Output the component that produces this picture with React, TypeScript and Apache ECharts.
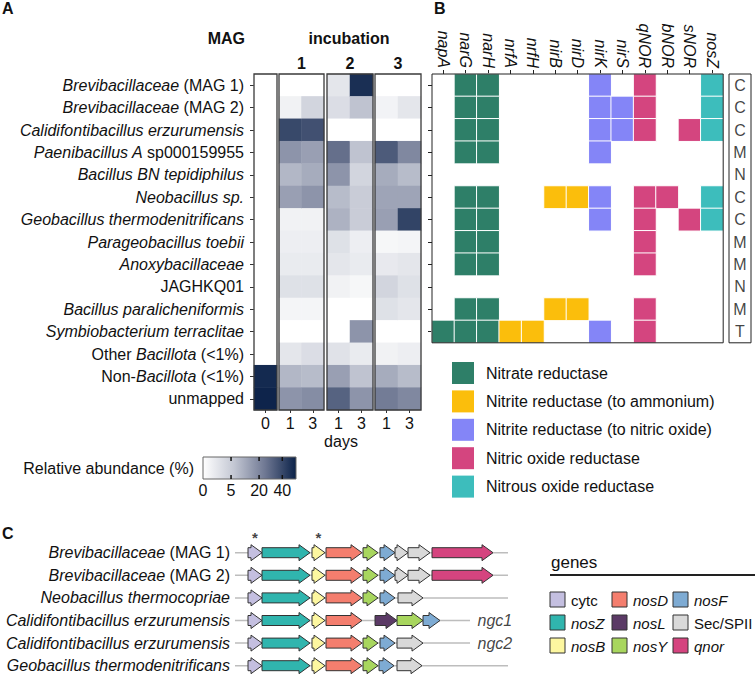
import React, { useEffect, useRef } from "react";
import * as echarts from "echarts";

const FONT = '"Liberation Sans", Arial, Helvetica, sans-serif';

// ---------- Panel A: relative abundance heatmap ----------
const taxa = [
  "{i|Brevibacillaceae} (MAG 1)",
  "{i|Brevibacillaceae} (MAG 2)",
  "{i|Calidifontibacillus erzurumensis}",
  "{i|Paenibacillus A} sp000159955",
  "{i|Bacillus BN tepidiphilus}",
  "{i|Neobacillus sp.}",
  "{i|Geobacillus thermodenitrificans}",
  "{i|Parageobacillus toebii}",
  "{i|Anoxybacillaceae}",
  "JAGHKQ01",
  "{i|Bacillus paralicheniformis}",
  "{i|Symbiobacterium terraclitae}",
  "Other {i|Bacillota} (<1%)",
  "Non-{i|Bacillota} (<1%)",
  "unmapped",
];
// relative abundance (%) per sample column
const magDay0 = [0, 0, 0, 0, 0, 0, 0, 0, 0, 0, 0, 0, 0, 51.7, 54];
const inc1Day1 = [0, 0.35, 39.7, 16.6, 8.8, 13.8, 0.35, 0.55, 0.8, 1.8, 0.2, 0, 1.24, 8.8, 16.6];
const inc1Day3 = [0, 3.4, 37, 13.8, 11.1, 16.6, 0.35, 0.55, 0.8, 1.8, 0.2, 0, 2.2, 7.9, 18.5];
const inc2Day1 = [1.24, 2.2, 0, 27, 16.6, 7.9, 9.7, 1.8, 1.24, 0.35, 0, 0, 1.6, 13.8, 30.9];
const inc2Day3 = [49.6, 6.7, 0, 6.7, 3.4, 5.0, 5.0, 0.55, 0.8, 0.14, 0, 16.6, 0.8, 6.7, 16.6];
const inc3Day1 = [0, 0.27, 0, 33.5, 11.1, 12.7, 13.8, 0.14, 0.93, 3.4, 1.8, 0, 0.35, 11.1, 23.2];
const inc3Day3 = [0, 1.24, 0, 19.8, 7.9, 12.7, 41.5, 0.2, 1.24, 1.8, 1.24, 0, 0.55, 7.9, 19.8];
const colorbarTicks = [0, 5, 20, 40];
const ABUND_MAX = 55;
const heatColors = ["#ffffff", "#c3c7d3", "#6f7893", "#0b2249"];

// ---------- Panel B: gene presence ----------
const genes = ["napA", "narG", "narH", "nrfA", "nrfH", "nirB", "nirD", "nirK", "nirS", "qNOR", "bNOR", "sNOR", "nosZ"];
const geneGroup = [0, 0, 0, 1, 1, 1, 1, 2, 2, 3, 3, 3, 4];
const groupNames = [
  "Nitrate reductase",
  "Nitrite reductase (to ammonium)",
  "Nitrite reductase (to nitric oxide)",
  "Nitric oxide reductase",
  "Nitrous oxide reductase",
];
const groupColors = ["#2e7f68", "#fbbe0c", "#8485f7", "#d4457f", "#3dbdbc"];
const genePresence = [
  [0, 1, 1, 0, 0, 0, 0, 1, 0, 1, 0, 0, 1],
  [0, 1, 1, 0, 0, 0, 0, 1, 1, 1, 0, 0, 1],
  [0, 1, 1, 0, 0, 0, 0, 1, 1, 1, 0, 1, 1],
  [0, 1, 1, 0, 0, 0, 0, 1, 0, 0, 0, 0, 0],
  [0, 0, 0, 0, 0, 0, 0, 0, 0, 0, 0, 0, 0],
  [0, 1, 1, 0, 0, 1, 1, 1, 0, 1, 1, 0, 1],
  [0, 1, 1, 0, 0, 0, 0, 1, 0, 1, 0, 1, 1],
  [0, 1, 1, 0, 0, 0, 0, 0, 0, 1, 0, 0, 0],
  [0, 1, 1, 0, 0, 0, 0, 0, 0, 1, 0, 0, 0],
  [0, 0, 0, 0, 0, 0, 0, 0, 0, 0, 0, 0, 0],
  [0, 1, 1, 0, 0, 1, 1, 0, 0, 1, 0, 0, 0],
  [1, 1, 1, 1, 1, 0, 0, 1, 0, 1, 0, 0, 0],
];
const lifestyle = ["C", "C", "C", "M", "N", "C", "C", "M", "M", "N", "M", "T"];

// ---------- Panel C: nos gene clusters (positions in kb) ----------
const operonNames = [
  "{i|Brevibacillaceae} (MAG 1)",
  "{i|Brevibacillaceae} (MAG 2)",
  "{i|Neobacillus thermocopriae}",
  "{i|Calidifontibacillus erzurumensis}",
  "{i|Calidifontibacillus erzurumensis}",
  "{i|Geobacillus thermodenitrificans}",
];
const geneNames = ["cytc", "nosZ", "nosB", "nosD", "nosL", "nosY", "nosF", "Sec/SPII", "qnor"];
const geneItalic = [false, true, true, true, true, true, true, false, true];
const geneColors = ["#c4bfe0", "#30b5ae", "#fdf7a0", "#f47e6e", "#5b3a66", "#a8d65e", "#7eabd3", "#d9d9d9", "#d5447f"];
const legendOrder = [0, 3, 6, 1, 4, 7, 2, 5, 8];
const operonMAG1 = [[0.65, 1.35, 0], [1.35, 3.75, 1], [3.85, 4.5, 2], [4.55, 6.35, 3], [6.4, 7.15, 5], [7.25, 8.0, 6], [8.0, 8.65, 7], [8.65, 9.75, 7], [9.85, 12.9, 8]];
const operonMAG2 = [[0.65, 1.35, 0], [1.35, 3.75, 1], [3.85, 4.5, 2], [4.55, 6.35, 3], [6.4, 7.15, 5], [7.25, 8.0, 6], [8.0, 8.65, 7], [8.65, 9.75, 7], [9.85, 12.9, 8]];
const operonNeo = [[0.65, 1.35, 0], [1.35, 3.75, 1], [3.85, 4.5, 2], [4.55, 6.35, 3], [6.4, 7.15, 5], [7.25, 8.0, 6], [8.15, 9.4, 7]];
const operonCal1 = [[0.65, 1.35, 0], [1.35, 3.75, 1], [3.85, 4.5, 2], [4.55, 6.35, 3], [7.0, 8.1, 4], [8.1, 9.4, 5], [9.4, 10.25, 6]];
const operonCal2 = [[0.65, 1.35, 0], [1.35, 3.75, 1], [3.85, 4.5, 2], [4.55, 6.35, 3], [6.4, 7.15, 5], [7.25, 8.0, 6], [8.1, 9.4, 7]];
const operonGeo = [[0.65, 1.35, 0], [1.35, 3.75, 1], [3.85, 4.5, 2], [4.55, 6.35, 3], [6.4, 7.15, 5], [7.2, 7.95, 6], [8.1, 9.35, 7]];
const operons = [operonMAG1, operonMAG2, operonNeo, operonCal1, operonCal2, operonGeo];
const trackEnds = [13.65, 13.65, 13.65, 11.75, 11.75, 13.65];
const clusterTags = ["", "", "", "ngc1", "ngc2", ""];
const starredGenes = [[0, 0], [0, 2]]; // [row, gene index within row]

function buildOption() {
  const aGroups = [
    { cols: [magDay0], labels: ["0"], left: 254, width: 23 },
    { cols: [inc1Day1, inc1Day3], labels: ["1", "3"], left: 279, width: 45 },
    { cols: [inc2Day1, inc2Day3], labels: ["1", "3"], left: 327, width: 46 },
    { cols: [inc3Day1, inc3Day3], labels: ["1", "3"], left: 375, width: 46 },
  ];
  const TOP = 74;
  const ROWH = 22.4;
  const grids: any[] = [];
  const xAxes: any[] = [];
  const yAxes: any[] = [];
  const series: any[] = [];
  const rich = { i: { fontStyle: "italic", fontSize: 16, fontFamily: FONT, color: "#111" } };

  aGroups.forEach((g, gi) => {
    grids.push({ left: g.left, top: TOP, width: g.width, height: ROWH * taxa.length, show: true, borderColor: "#3a3a3a", borderWidth: 1.3, z: 10 });
    xAxes.push({
      type: "category", gridIndex: gi, data: g.labels, position: "bottom",
      axisLine: { show: false },
      axisTick: { show: true, alignWithLabel: true, length: 3, lineStyle: { color: "#333" } },
      axisLabel: { fontSize: 16, color: "#111", margin: 5, fontFamily: FONT, interval: 0 },
      splitLine: { show: false },
    });
    if (gi === 0) {
      yAxes.push({
        type: "category", gridIndex: gi, data: taxa, inverse: true,
        axisLine: { show: false },
        axisTick: { show: true, alignWithLabel: true, length: 4, lineStyle: { color: "#333" } },
        axisLabel: { fontSize: 16, color: "#111", margin: 10, fontFamily: FONT, interval: 0, rich },
      });
    } else {
      yAxes.push({ type: "category", gridIndex: gi, data: taxa, inverse: true, show: false });
    }
    const data: any[] = [];
    g.cols.forEach((col, ci) => col.forEach((v, ri) => data.push([ci, ri, Math.sqrt(v)])));
    series.push({ type: "heatmap", xAxisIndex: gi, yAxisIndex: gi, data, itemStyle: { borderWidth: 0 }, emphasis: { disabled: true } });
  });

  // Panel B grid (index 4)
  const nB = genePresence.length;
  grids.push({ left: 432, top: TOP, width: 22.4 * genes.length, height: ROWH * nB, show: true, borderColor: "#222", borderWidth: 1, z: 10 });
  xAxes.push({
    type: "category", gridIndex: 4, data: genes, position: "top",
    axisLine: { show: false },
    axisTick: { show: true, alignWithLabel: true, length: 4, lineStyle: { color: "#222" } },
    axisLabel: { rotate: 90, fontSize: 16, fontStyle: "italic", color: "#111", margin: 6, fontFamily: FONT, interval: 0 },
  });
  yAxes.push({
    type: "category", gridIndex: 4, data: taxa.slice(0, nB), inverse: true,
    axisLine: { show: false },
    axisTick: { show: true, alignWithLabel: true, length: 4, lineStyle: { color: "#222" } },
    axisLabel: { show: false },
  });
  const bData: any[] = [];
  genePresence.forEach((row, ri) => row.forEach((p, ci) => { if (p) bData.push([ci, ri, geneGroup[ci] + 1]); }));
  series.push({ type: "heatmap", xAxisIndex: 4, yAxisIndex: 4, data: bData, itemStyle: { borderColor: "#ffffff", borderWidth: 1 }, emphasis: { disabled: true } });

  // Letters (index 5)
  grids.push({ left: 729, top: TOP, width: 22, height: ROWH * nB, show: true, borderColor: "#222", borderWidth: 1, z: 10 });
  xAxes.push({ type: "value", gridIndex: 5, min: -1, max: 1, show: false });
  yAxes.push({ type: "category", gridIndex: 5, data: lifestyle.map((_, i) => String(i)), inverse: true, show: false });
  series.push({
    type: "scatter", xAxisIndex: 5, yAxisIndex: 5, data: lifestyle.map((_, i) => [0, i]),
    symbolSize: 1, itemStyle: { color: "rgba(0,0,0,0)" }, silent: true,
    label: { show: true, position: "inside", formatter: (p: any) => lifestyle[p.dataIndex], fontSize: 16, color: "#111", fontFamily: FONT },
  });

  // Panel C (index 6)
  const CROW = 23.6;
  grids.push({ left: 235, top: 541.4, width: 273, height: CROW * operons.length });
  xAxes.push({ type: "value", gridIndex: 6, min: 0, max: 13.65, show: false });
  yAxes.push({
    type: "category", gridIndex: 6, data: operons.map((_, i) => String(i)), inverse: true,
    axisLine: { show: false }, axisTick: { show: false },
    axisLabel: { formatter: (_v: string, i: number) => operonNames[i], fontSize: 16, color: "#111", margin: 5, fontFamily: FONT, rich },
  });
  series.push({
    type: "custom", xAxisIndex: 6, yAxisIndex: 6, silent: true,
    data: trackEnds.map((e, i) => [0, e, i]),
    encode: { x: [0, 1], y: 2 },
    renderItem: (_p: any, api: any) => {
      const a = api.coord([api.value(0), api.value(2)]);
      const b = api.coord([api.value(1), api.value(2)]);
      return { type: "line", shape: { x1: a[0], y1: a[1], x2: b[0], y2: b[1] }, style: { stroke: "#bdbdbd", lineWidth: 1.5 } };
    },
  });
  const arrowData: any[] = [];
  operons.forEach((op, ri) => op.forEach(([s, e, g]) => arrowData.push([s, e, ri, g])));
  series.push({
    type: "custom", xAxisIndex: 6, yAxisIndex: 6, silent: true,
    data: arrowData,
    encode: { x: [0, 1], y: 2 },
    renderItem: (_p: any, api: any) => {
      const row = api.value(2);
      const a = api.coord([api.value(0), row]);
      const b = api.coord([api.value(1), row]);
      const w = b[0] - a[0];
      const hl = Math.min(11, w);
      const bh = 5, hh = 8;
      const x0 = a[0], x1 = b[0], y = a[1], xb = x1 - hl;
      const points = [[x0, y - bh], [xb, y - bh], [xb, y - hh], [x1, y], [xb, y + hh], [xb, y + bh], [x0, y + bh]];
      return { type: "polygon", shape: { points }, style: { fill: geneColors[api.value(3)], stroke: "#333", lineWidth: 1 } };
    },
  });
  const annot: any[] = [];
  starredGenes.forEach(([r, gi]) => {
    const [s, e] = operons[r][gi];
    annot.push({ value: [(s + e) / 2, r], label: { formatter: "*", position: "inside", offset: [0, -15], fontSize: 15, fontWeight: "bold" } });
  });
  clusterTags.forEach((t, r) => {
    if (t) annot.push({ value: [trackEnds[r], r], label: { formatter: t, position: "right", distance: 7, fontStyle: "italic", fontSize: 16 } });
  });
  series.push({
    type: "scatter", xAxisIndex: 6, yAxisIndex: 6, data: annot, symbolSize: 1, silent: true,
    itemStyle: { color: "rgba(0,0,0,0)" },
    label: { show: true, color: "#111", fontFamily: FONT },
  });

  // ---------- graphics ----------
  const graphic: any[] = [];
  const txt = (x: number, y: number, text: string, opts: any = {}) =>
    graphic.push({ type: "text", x, y, z: 20, style: { text, fill: "#111", fontFamily: FONT, fontSize: 16, align: "left", verticalAlign: "middle", ...opts } });

  txt(2, 8, "A", { fontWeight: "bold", fontSize: 16 });
  txt(434, 8, "B", { fontWeight: "bold", fontSize: 16 });
  txt(2, 533, "C", { fontWeight: "bold", fontSize: 16 });
  txt(245, 38, "MAG", { fontWeight: "bold", align: "right" });
  txt(349, 38, "incubation", { fontWeight: "bold", align: "center" });
  aGroups.slice(1).forEach((g, i) => txt(g.left + g.width / 2, 63, String(i + 1), { fontWeight: "bold", align: "center" }));
  txt(341, 441, "days", { align: "center" });

  // colorbar
  const cbX = 203, cbY = 457, cbW = 93, cbH = 22;
  txt(194, 468, "Relative abundance (%)", { align: "right" });
  graphic.push({
    type: "rect", shape: { x: cbX, y: cbY, width: cbW, height: cbH },
    style: {
      fill: new echarts.graphic.LinearGradient(0, 0, 1, 0, heatColors.map((c, i) => ({ offset: i / (heatColors.length - 1), color: c }))),
      stroke: "#666", lineWidth: 1,
    },
  });
  colorbarTicks.forEach((v) => {
    const x = cbX + cbW * Math.sqrt(v / ABUND_MAX);
    if (v > 0) {
      graphic.push({ type: "line", shape: { x1: x, y1: cbY, x2: x, y2: cbY + 4 }, style: { stroke: "#111", lineWidth: 1.5 } });
      graphic.push({ type: "line", shape: { x1: x, y1: cbY + cbH - 4, x2: x, y2: cbY + cbH }, style: { stroke: "#111", lineWidth: 1.5 } });
    }
    txt(x, 490, String(v), { align: "center" });
  });

  // B legend
  groupNames.forEach((n, i) => {
    const y = 362 + i * 28.4;
    graphic.push({ type: "rect", shape: { x: 452, y, width: 22, height: 22 }, style: { fill: groupColors[i] } });
    txt(486, y + 11, n, { fontSize: 16 });
  });

  // C legend
  txt(551, 562, "genes", { fontSize: 17 });
  graphic.push({ type: "line", shape: { x1: 550, y1: 575, x2: 755, y2: 575 }, style: { stroke: "#222", lineWidth: 2 } });
  const colX = [550, 612, 673];
  const rowY = [592, 615, 638];
  legendOrder.forEach((gi, k) => {
    const cx = colX[k % 3], cy = rowY[Math.floor(k / 3)];
    graphic.push({ type: "rect", shape: { x: cx, y: cy, width: 15, height: 15 }, style: { fill: geneColors[gi], stroke: "#333", lineWidth: 1 } });
    txt(cx + 21, cy + 8, geneNames[gi], { fontSize: 15, fontStyle: geneItalic[gi] ? "italic" : "normal" });
  });

  return {
    animation: false,
    backgroundColor: "#ffffff",
    textStyle: { fontFamily: FONT },
    grid: grids,
    xAxis: xAxes,
    yAxis: yAxes,
    visualMap: [
      { type: "continuous", seriesIndex: [0, 1, 2, 3], dimension: 2, min: 0, max: Math.sqrt(ABUND_MAX), show: false, inRange: { color: heatColors } },
      { type: "piecewise", seriesIndex: 4, dimension: 2, show: false, pieces: groupColors.map((c, i) => ({ value: i + 1, color: c })) },
    ],
    series,
    graphic,
  };
}

export default function App() {
  const ref = useRef<HTMLDivElement>(null);
  useEffect(() => {
    document.body.style.margin = "0";
    const chart = echarts.init(ref.current!, null, { renderer: "svg" });
    chart.setOption(buildOption() as any);
    return () => chart.dispose();
  }, []);
  return <div ref={ref} style={{ width: 755, height: 677 }} />;
}
